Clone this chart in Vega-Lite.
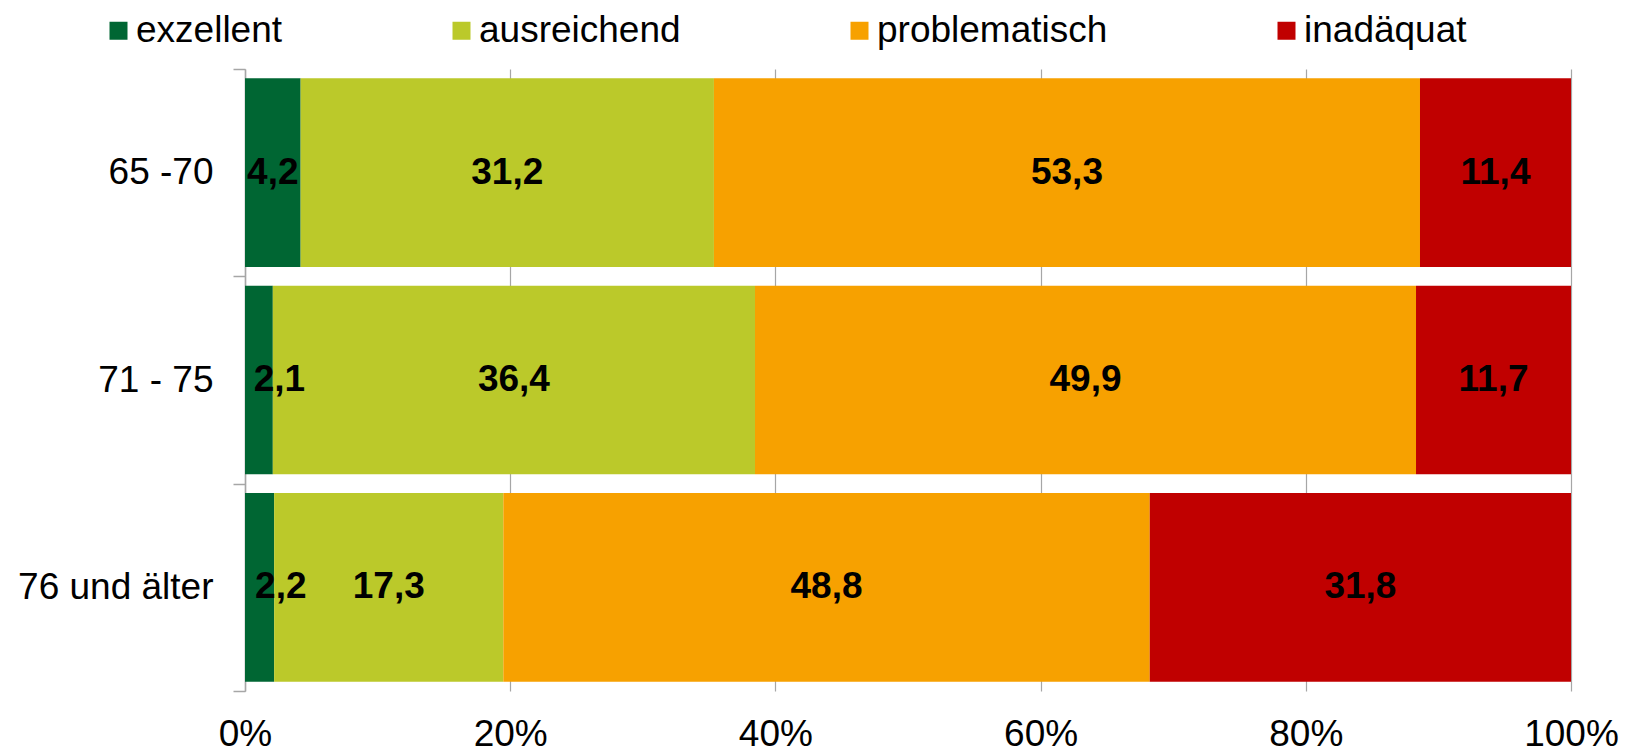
{
  "$schema": "https://vega.github.io/schema/vega-lite/v6.json",
  "width": 1326,
  "height": 622,
  "autosize": {"type": "none"},
  "padding": {"left": 245, "top": 69, "right": 61, "bottom": 61},
  "background": "white",
  "config": {
    "view": {"stroke": null},
    "font": "Liberation Sans",
    "locale": {"number": {"decimal": ",", "thousands": ".", "grouping": [3], "currency": ["", " €"]}}
  },
  "data": {
    "values": [
      {"age": "65 -70", "category": "exzellent", "value": 4.2},
      {"age": "65 -70", "category": "ausreichend", "value": 31.2},
      {"age": "65 -70", "category": "problematisch", "value": 53.3},
      {"age": "65 -70", "category": "inadäquat", "value": 11.4},
      {"age": "71 - 75", "category": "exzellent", "value": 2.1},
      {"age": "71 - 75", "category": "ausreichend", "value": 36.4},
      {"age": "71 - 75", "category": "problematisch", "value": 49.9},
      {"age": "71 - 75", "category": "inadäquat", "value": 11.7},
      {"age": "76 und älter", "category": "exzellent", "value": 2.2},
      {"age": "76 und älter", "category": "ausreichend", "value": 17.3},
      {"age": "76 und älter", "category": "problematisch", "value": 48.8},
      {"age": "76 und älter", "category": "inadäquat", "value": 31.8}
    ]
  },
  "transform": [
    {"calculate": "indexof(['exzellent','ausreichend','problematisch','inadäquat'], datum.category)", "as": "order"},
    {"stack": "value", "groupby": ["age"], "sort": [{"field": "order", "order": "ascending"}], "offset": "normalize", "as": ["x0", "x1"]},
    {"calculate": "(datum.x1 - datum.x0) < 0.03 ? datum.x1 + 0.005 : (datum.x0 + datum.x1) / 2", "as": "xmid"}
  ],
  "encoding": {
    "y": {
      "field": "age",
      "type": "nominal",
      "sort": ["65 -70", "71 - 75", "76 und älter"],
      "scale": {"paddingInner": 0, "paddingOuter": 0},
      "axis": {
        "title": null,
        "labelFontSize": 37,
        "labelColor": "black",
        "labelPadding": 20,
        "labelLimit": 400,
        "tickSize": 12,
        "tickBand": "extent",
        "tickColor": "#A6A6A6",
        "tickWidth": 1.5,
        "domainColor": "#A6A6A6",
        "domainWidth": 1.5,
        "grid": false
      }
    }
  },
  "layer": [
    {
      "mark": {"type": "bar", "height": {"band": 0.91}},
      "encoding": {
        "x": {
          "field": "x0",
          "type": "quantitative",
          "scale": {"domain": [0, 1], "nice": false},
          "axis": {
            "title": null,
            "format": "%",
            "values": [0, 0.2, 0.4, 0.6, 0.8, 1],
            "labelFontSize": 37,
            "labelColor": "black",
            "labelBaseline": "alphabetic",
            "labelPadding": 54,
            "labelFlush": false,
            "domain": false,
            "ticks": false,
            "grid": true,
            "gridColor": "#A6A6A6",
            "gridWidth": 1.2
          }
        },
        "x2": {"field": "x1"},
        "color": {
          "field": "category",
          "type": "nominal",
          "scale": {
            "domain": ["exzellent", "ausreichend", "problematisch", "inadäquat"],
            "range": ["#006633", "#BBC92A", "#F7A100", "#C00000"]
          },
          "legend": {
            "orient": "none",
            "legendX": -145,
            "legendY": -57,
            "direction": "horizontal",
            "title": null,
            "symbolType": "square",
            "symbolSize": 324,
            "symbolStrokeWidth": 0,
            "symbolOpacity": 1,
            "labelFontSize": 37,
            "labelColor": "black",
            "labelOffset": -1,
            "labelLimit": 500,
            "columnPadding": 160
          }
        }
      }
    },
    {
      "mark": {"type": "text", "fontWeight": "bold", "fontSize": 37, "baseline": "middle", "align": "center", "color": "black"},
      "encoding": {
        "x": {"field": "xmid", "type": "quantitative"},
        "text": {"field": "value", "type": "quantitative", "format": ".1f"}
      }
    }
  ]
}
